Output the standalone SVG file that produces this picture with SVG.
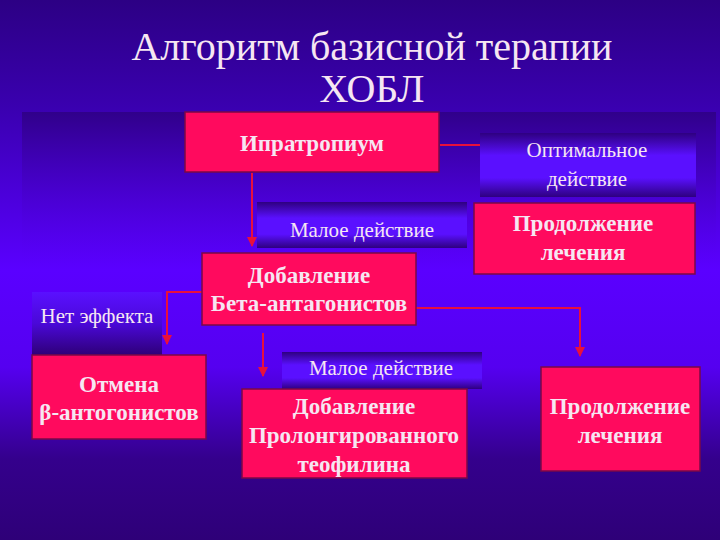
<svg xmlns="http://www.w3.org/2000/svg" width="720" height="540" viewBox="0 0 720 540" font-family="Liberation Serif, Times New Roman, serif">
<defs>
<linearGradient id="bg" x1="0" y1="0" x2="0" y2="1">
<stop offset="0" stop-color="#2c0084"/>
<stop offset="0.2" stop-color="#3a00b0"/>
<stop offset="0.5" stop-color="#5a00ff"/>
<stop offset="0.68" stop-color="#5500f0"/>
<stop offset="0.85" stop-color="#34008c"/>
<stop offset="1" stop-color="#2e0078"/>
</linearGradient>
<linearGradient id="panel" x1="0" y1="0" x2="0" y2="1">
<stop offset="0" stop-color="#30008a"/>
<stop offset="1" stop-color="#5a00ff" stop-opacity="0"/>
</linearGradient>
<linearGradient id="lbl" x1="0" y1="0" x2="0" y2="1">
<stop offset="0" stop-color="#2e0080"/>
<stop offset="0.35" stop-color="#5a10ff"/>
<stop offset="0.7" stop-color="#5a10ff"/>
<stop offset="1" stop-color="#2e0080"/>
</linearGradient>
<linearGradient id="lbl2" x1="0" y1="0" x2="0" y2="1">
<stop offset="0" stop-color="#5a10ff"/>
<stop offset="0.5" stop-color="#4a08d8"/>
<stop offset="1" stop-color="#2e0078"/>
</linearGradient>
<marker id="arr" viewBox="0 0 10 10" refX="9" refY="5" markerWidth="5" markerHeight="5" orient="auto">
<path d="M0,0 L10,5 L0,10 z" fill="#e8103c"/>
</marker>
</defs>
<style>
.pink{fill:#ff0a5e;stroke:#7a0848;stroke-width:1.5}
text{fill:#f6e6f2;text-anchor:middle}
.b{font-weight:bold;font-size:23px}
.n{font-size:21px}
.c{fill:none;stroke:#e8103c;stroke-width:2;marker-end:url(#arr)}
</style>
<rect width="720" height="540" fill="url(#bg)"/>
<rect x="22" y="112" width="694" height="160" fill="url(#panel)"/>
<g id="title" font-family="Liberation Serif, serif">
<text x="372" y="60" font-size="40">Алгоритм базисной терапии</text>
<text x="372" y="102" font-size="40">ХОБЛ</text>
</g>
<g id="connectors">
<path class="c" d="M252,173 V246"/>
<path class="c" d="M440,145 H501 V191"/>
<path class="c" d="M202,292 H167 V344"/>
<path class="c" d="M263,333 V376"/>
<path class="c" d="M416,308 H580 V356"/>
</g>
<g id="n1">
<rect class="pink" x="185" y="112" width="254" height="60"/>
<text class="b" x="312" y="151">Ипратропиум</text>
</g>
<g id="n2">
<rect x="480" y="133" width="216" height="64" fill="url(#lbl)"/>
<text class="n" x="587" y="157">Оптимальное</text>
<text class="n" x="587" y="186">действие</text>
</g>
<g id="n3">
<rect class="pink" x="474" y="203" width="221" height="71"/>
<text class="b" x="583" y="231">Продолжение</text>
<text class="b" x="583" y="260">лечения</text>
</g>
<g id="n4">
<rect x="257" y="202" width="210" height="46" fill="url(#lbl)"/>
<text class="n" x="362" y="237">Малое действие</text>
</g>
<g id="n5">
<rect class="pink" x="202" y="253" width="214" height="72"/>
<text class="b" x="309" y="283">Добавление</text>
<text class="b" x="309" y="311">Бета-антагонистов</text>
</g>
<g id="n6">
<rect x="32" y="292" width="130" height="63" fill="url(#lbl2)"/>
<text class="n" x="97" y="323">Нет эффекта</text>
</g>
<g id="n7">
<rect class="pink" x="32" y="355" width="174" height="84"/>
<text class="b" x="119" y="392">Отмена</text>
<text class="b" x="119" y="420">β-антогонистов</text>
</g>
<g id="n8">
<rect x="282" y="352" width="200" height="37" fill="url(#lbl)"/>
<text class="n" x="381" y="375">Малое действие</text>
</g>
<g id="n9">
<rect class="pink" x="242" y="389" width="225" height="89"/>
<text class="b" x="354" y="414">Добавление</text>
<text class="b" x="354" y="443">Пролонгированного</text>
<text class="b" x="354" y="472">теофилина</text>
</g>
<g id="n10">
<rect class="pink" x="541" y="367" width="159" height="104"/>
<text class="b" x="620" y="414">Продолжение</text>
<text class="b" x="620" y="443">лечения</text>
</g>
</svg>
